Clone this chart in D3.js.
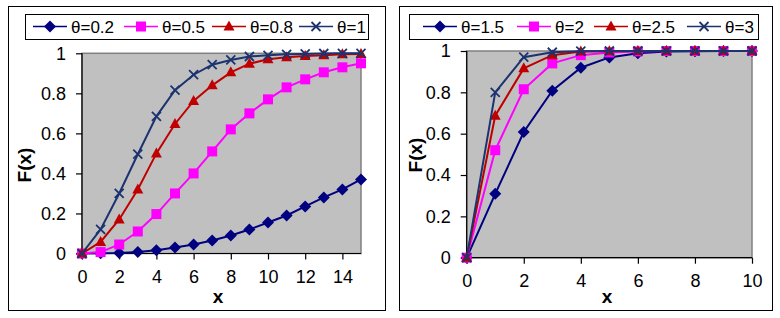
<!DOCTYPE html>
<html>
<head>
<meta charset="utf-8">
<script src="https://cdn.jsdelivr.net/npm/d3@7"></script>
<style>
  body { margin: 0; background: #fff; }
  svg { display: block; font-family: "Liberation Sans", Arial, sans-serif; }
</style>
</head>
<body>
<script>
// Data
var leftX = [0, 1, 2, 3, 4, 5, 6, 7, 8, 9, 10, 11, 12, 13, 14, 15];
var theta02 = [0, 0.001, 0.003, 0.008, 0.016, 0.03, 0.045, 0.065, 0.09, 0.12, 0.155, 0.19, 0.235, 0.28, 0.32, 0.37];
var theta05 = [0, 0.007, 0.045, 0.11, 0.197, 0.30, 0.40, 0.51, 0.62, 0.70, 0.77, 0.83, 0.87, 0.905, 0.93, 0.95];
var theta08 = [0, 0.058, 0.17, 0.32, 0.50, 0.647, 0.762, 0.84, 0.905, 0.948, 0.97, 0.98, 0.987, 0.99, 0.995, 0.997];
var theta1 = [0, 0.12, 0.30, 0.496, 0.685, 0.816, 0.893, 0.943, 0.967, 0.984, 0.99, 0.995, 0.997, 0.999, 1, 1];
var leftNames = ["θ=0.2", "θ=0.5", "θ=0.8", "θ=1"];
var leftXTicks = [0, 2, 4, 6, 8, 10, 12, 14];

var rightX = [0, 1, 2, 3, 4, 5, 6, 7, 8, 9, 10];
var theta15 = [0, 0.309, 0.608, 0.808, 0.919, 0.969, 0.989, 0.997, 0.999, 1, 1];
var theta2 = [0, 0.52, 0.815, 0.94, 0.98, 0.993, 0.998, 1, 1, 1, 1];
var theta25 = [0, 0.687, 0.916, 0.98, 0.997, 0.999, 1, 1, 1, 1, 1];
var theta3 = [0, 0.8, 0.97, 0.994, 0.999, 1, 1, 1, 1, 1, 1];
var rightNames = ["θ=1.5", "θ=2", "θ=2.5", "θ=3"];
var rightXTicks = [0, 2, 4, 6, 8, 10];

var yTicks = [0, 0.2, 0.4, 0.6, 0.8, 1];

// series styles (same order in both panels)
var styles = [
  {color: "#000080", marker: "diamond"},
  {color: "#ff00ff", marker: "square"},
  {color: "#c00000", marker: "triangle"},
  {color: "#1c3370", marker: "cross"}
];

var svg = d3.select("body").append("svg")
  .attr("width", 780)
  .attr("height", 318);

function markerPath(type) {
  if (type == "diamond") return "M0,-6L6,0L0,6L-6,0Z";
  if (type == "square") return "M-5,-5H5V5H-5Z";
  if (type == "triangle") return "M0,-6L5.5,4L-5.5,4Z";
  return "M-4.5,-4.5L4.5,4.5M4.5,-4.5L-4.5,4.5";
}

function drawMarker(g, type, color) {
  var p = g.append("path").attr("d", markerPath(type));
  if (type == "cross") {
    p.attr("fill", "none").attr("stroke", color).attr("stroke-width", 1.8);
  } else {
    p.attr("fill", color);
  }
}

function drawPanel(cfg) {
  // panel frame
  svg.append("rect")
    .attr("x", cfg.box[0] + 0.5).attr("y", cfg.box[1] + 0.5)
    .attr("width", cfg.box[2]).attr("height", cfg.box[3])
    .attr("fill", "#fff").attr("stroke", "#000");

  var x = d3.scaleLinear().domain(cfg.xDomain).range([cfg.plot[0], cfg.plot[1]]);
  var y = d3.scaleLinear().domain([0, 1]).range([cfg.plot[2], cfg.plot[3]]);

  // plot area
  svg.append("rect")
    .attr("x", x(cfg.xDomain[0])).attr("y", y(1))
    .attr("width", x(cfg.xDomain[1]) - x(cfg.xDomain[0]))
    .attr("height", y(0) - y(1))
    .attr("fill", "#c0c0c0").attr("stroke", "#808080").attr("stroke-width", 1.5);

  var yAxis = d3.axisLeft(y).tickValues(yTicks).tickSize(6).tickPadding(10)
    .tickFormat(function(d) { return String(+d.toFixed(1)); });
  var xAxis = d3.axisBottom(x).tickValues(cfg.xTicks).tickSize(6).tickPadding(11)
    .tickFormat(d3.format("d"));

  var ga = svg.append("g").attr("transform", "translate(0," + y(0) + ")").call(xAxis);
  var gb = svg.append("g").attr("transform", "translate(" + x(0) + ",0)").call(yAxis);
  [ga, gb].forEach(function(g) {
    g.selectAll("path,line").attr("stroke", "#000").attr("stroke-width", 1.2);
    g.selectAll("text").attr("fill", "#000").style("font-size", "18px")
      .style("font-family", "Liberation Sans, Arial, sans-serif");
    g.select(".domain").attr("d", g === ga
      ? "M" + x(cfg.xDomain[0]) + ",0H" + x(cfg.xDomain[1])
      : "M0," + y(0) + "V" + y(1));
  });

  // series
  var line = d3.line()
    .x(function(d) { return x(d[0]); })
    .y(function(d) { return y(d[1]); });

  cfg.series.forEach(function(vals, i) {
    var st = styles[i];
    var pts = cfg.xs.map(function(v, j) { return [v, vals[j]]; });
    svg.append("path").datum(pts)
      .attr("fill", "none").attr("stroke", st.color).attr("stroke-width", 2)
      .attr("d", line);
    pts.forEach(function(p) {
      var g = svg.append("g").attr("transform", "translate(" + x(p[0]) + "," + y(p[1]) + ")");
      drawMarker(g, st.marker, st.color);
    });
  });

  // axis titles
  svg.append("text")
    .attr("transform", "translate(" + cfg.yTitle[0] + "," + cfg.yTitle[1] + ") rotate(-90)")
    .attr("text-anchor", "middle").attr("dy", "0.35em")
    .style("font-size", "19px").style("font-weight", "bold")
    .text("F(x)");
  svg.append("text")
    .attr("x", cfg.xTitle).attr("y", 303)
    .attr("text-anchor", "middle")
    .style("font-size", "19px").style("font-weight", "bold")
    .text("x");

  // legend
  var lb = cfg.legend;
  svg.append("rect")
    .attr("x", lb[0] + 0.5).attr("y", lb[1] + 0.5)
    .attr("width", lb[2]).attr("height", lb[3])
    .attr("fill", "#fff").attr("stroke", "#000");
  cfg.names.forEach(function(name, i) {
    var st = styles[i];
    var x0 = cfg.legendX[i], cy = lb[1] + 12.5;
    svg.append("line")
      .attr("x1", x0).attr("x2", x0 + 34).attr("y1", cy).attr("y2", cy)
      .attr("stroke", st.color).attr("stroke-width", 1.6);
    var g = svg.append("g").attr("transform", "translate(" + (x0 + 17) + "," + cy + ")");
    drawMarker(g, st.marker, st.color);
    svg.append("text")
      .attr("x", x0 + 38).attr("y", cy).attr("dy", "0.36em")
      .style("font-size", "17px")
      .text(name);
  });
}

drawPanel({
  box: [8, 6, 377, 304],
  plot: [82, 361, 253.5, 53.3],
  xDomain: [0, 15],
  xTicks: leftXTicks,
  xs: leftX,
  series: [theta02, theta05, theta08, theta1],
  names: leftNames,
  legend: [25, 14, 343, 25],
  legendX: [33, 124, 212, 299],
  yTitle: [24, 165],
  xTitle: 218
});

drawPanel({
  box: [399, 6, 373, 304],
  plot: [466.7, 752, 257.7, 51],
  xDomain: [0, 10],
  xTicks: rightXTicks,
  xs: rightX,
  series: [theta15, theta2, theta25, theta3],
  names: rightNames,
  legend: [409, 14, 349, 25],
  legendX: [423, 517, 594, 687],
  yTitle: [415, 155],
  xTitle: 607
});
</script>
</body>
</html>
